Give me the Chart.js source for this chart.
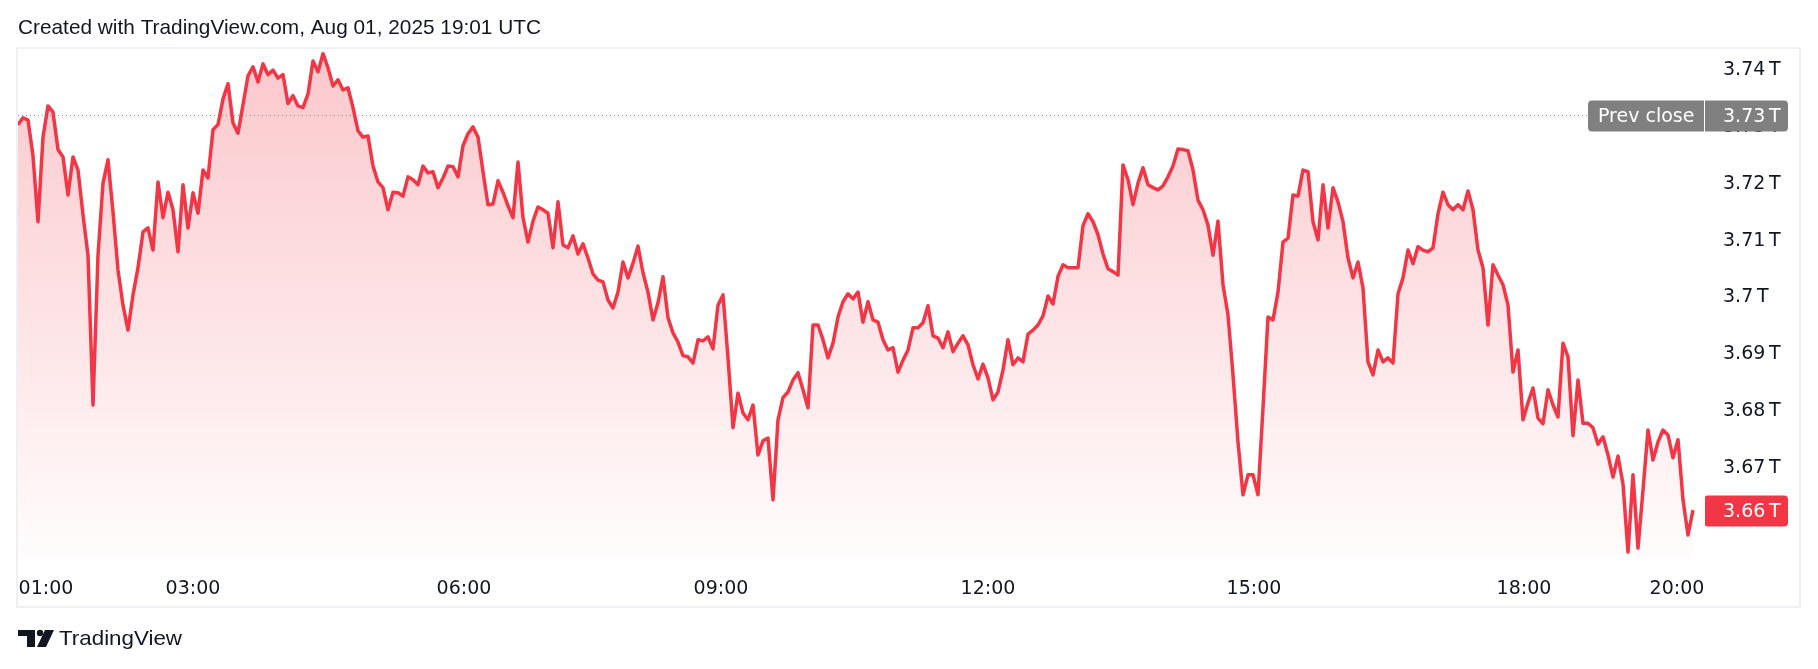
<!DOCTYPE html>
<html><head><meta charset="utf-8">
<script src="https://cdn.jsdelivr.net/npm/chart.js@4.4.1/dist/chart.umd.min.js"></script>
<style>html,body{margin:0;padding:0;background:#fff;overflow:hidden}canvas{display:block}</style>
</head><body>
<canvas id="c" width="1818" height="669"></canvas>
<script>
// ---------- data ----------
const titleText = 'Created with TradingView.com, Aug 01, 2025 19:01 UTC';
const brandText = 'TradingView';
const prevCloseLabel = 'Prev close';
const timeTickPos = [5.6, 35, 89.2, 140.6, 194, 247.2, 301.2, 331.8];
const timeTickLabels = ['01:00', '03:00', '06:00', '09:00', '12:00', '15:00', '18:00', '20:00'];
const priceTicks = [3670, 3680, 3690, 3700, 3710, 3720, 3730, 3740];
const prevCloseB = 3731.7;
// market cap, billions USD
const marketCapB = [
3730.0,3731.2,3730.8,3724.5,3712.9,3727.8,3733.3,3732.2,3725.6,3724.3,
3717.6,3724.3,3722.0,3714.1,3707.0,3680.6,3707.0,3719.7,3723.8,3714.6,
3704.4,3698.2,3693.8,3700.0,3704.8,3711.1,3711.8,3707.9,3719.9,3713.6,
3718.1,3715.0,3707.6,3719.4,3711.8,3718.0,3714.4,3722.0,3720.6,3729.1,
3730.0,3734.5,3737.2,3730.3,3728.5,3733.5,3738.6,3740.2,3737.5,3740.7,
3738.8,3739.6,3738.2,3738.8,3733.7,3735.1,3733.3,3733.0,3735.4,3741.2,
3739.3,3742.5,3740.0,3736.8,3737.9,3736.1,3736.5,3733.0,3728.9,3727.8,
3728.0,3722.7,3719.9,3718.9,3715.0,3718.1,3718.0,3717.4,3720.8,3720.3,
3719.4,3722.7,3721.5,3721.7,3718.9,3720.6,3722.7,3722.6,3720.8,3726.3,
3728.4,3729.6,3727.8,3721.7,3715.9,3716.0,3720.1,3718.1,3715.7,3713.6,
3723.4,3713.6,3709.3,3713.0,3715.5,3715.0,3714.4,3708.3,3716.4,3708.8,
3708.3,3710.4,3707.2,3709.0,3706.5,3703.7,3702.6,3702.3,3699.1,3697.7,
3700.5,3705.8,3703.0,3705.6,3708.6,3703.9,3700.5,3695.6,3698.6,3703.2,
3696.0,3693.3,3691.7,3689.3,3689.1,3688.0,3692.1,3691.9,3692.6,3690.5,
3698.2,3700.0,3688.9,3676.6,3682.7,3679.2,3678.0,3680.6,3671.8,3674.3,
3674.8,3663.9,3678.0,3681.9,3682.9,3685.0,3686.3,3683.3,3680.1,3694.7,
3694.7,3692.1,3688.9,3691.5,3696.1,3698.8,3700.2,3699.3,3700.5,3695.2,
3698.8,3695.6,3695.2,3692.1,3690.3,3690.7,3686.4,3688.5,3690.3,3694.2,
3694.2,3695.1,3698.1,3692.8,3692.4,3690.7,3693.5,3690.0,3691.5,3692.8,
3691.2,3687.7,3685.2,3687.8,3685.4,3681.5,3682.9,3686.8,3692.1,3687.7,
3688.9,3688.2,3693.1,3693.8,3694.7,3696.3,3699.8,3698.4,3703.3,3705.3,
3704.8,3704.8,3704.8,3712.2,3714.3,3712.9,3710.6,3707.2,3704.6,3704.1,
3703.5,3722.9,3720.3,3715.9,3719.7,3722.4,3719.4,3718.9,3718.5,3719.2,
3720.8,3722.7,3725.7,3725.6,3725.4,3722.0,3716.7,3715.0,3712.3,3707.0,
3713.0,3701.8,3696.5,3685.9,3674.1,3664.8,3668.3,3668.3,3664.8,3680.1,
3696.1,3695.6,3700.5,3709.3,3710.0,3717.6,3717.4,3722.0,3721.7,3712.9,
3709.7,3719.4,3711.8,3718.9,3716.4,3712.9,3706.5,3703.0,3705.8,3701.2,
3688.2,3685.9,3690.3,3688.2,3688.9,3688.0,3700.2,3703.0,3707.9,3705.5,
3708.5,3707.9,3707.6,3708.3,3714.3,3718.1,3715.9,3715.0,3715.9,3715.0,
3718.3,3715.0,3707.9,3704.8,3694.7,3705.3,3703.5,3701.8,3698.2,3686.4,
3690.3,3678.0,3681.0,3683.6,3678.3,3677.3,3683.3,3680.6,3678.5,3691.5,
3689.1,3675.2,3685.0,3677.4,3677.4,3676.6,3673.7,3675.0,3671.8,3667.9,
3671.6,3666.7,3654.7,3668.3,3655.4,3665.6,3676.2,3670.9,3674.1,3676.2,
3675.3,3671.3,3674.5,3663.9,3657.7,3662.1
];

// ---------- helpers ----------
const RED = '#F23645';
const TXT = '#131722';
const AXIS_FONT = '"DejaVu Sans", sans-serif';
const fmtT = v => (Math.round(v / 10) / 100).toString() + '\u202FT';

function fitText(ctx, text, x, baseline, font, targetW) {
  ctx.save();
  ctx.font = font;
  const w = ctx.measureText(text).width;
  ctx.translate(x, baseline);
  ctx.scale(targetW / w, 1);
  ctx.textAlign = 'left';
  ctx.textBaseline = 'alphabetic';
  ctx.fillStyle = TXT;
  ctx.fillText(text, 0, 0);
  ctx.restore();
}
function box(ctx, x, y, w, h, r, color) {
  ctx.beginPath();
  ctx.roundRect(x, y, w, h, r);
  ctx.fillStyle = color;
  ctx.fill();
}

const decor = {
  id: 'decor',
  beforeDraw(chart) {
    const ctx = chart.ctx;
    ctx.save();
    ctx.strokeStyle = '#eef0f3';
    ctx.lineWidth = 2;
    ctx.strokeRect(17, 48, 1783, 559);
    ctx.restore();
  },
  beforeDatasetsDraw(chart) {
    const ctx = chart.ctx, y = chart.scales.y.getPixelForValue(prevCloseB);
    ctx.save();
    ctx.strokeStyle = '#9598a1';
    ctx.lineWidth = 1;
    ctx.setLineDash([1, 3]);
    ctx.beginPath();
    ctx.moveTo(chart.chartArea.left, Math.round(y) + 0.5);
    ctx.lineTo(1588, Math.round(y) + 0.5);
    ctx.stroke();
    ctx.restore();
  },
  afterDraw(chart) {
    const ctx = chart.ctx, ys = chart.scales.y;
    // title & brand
    fitText(ctx, titleText, 18, 34, '21px "Liberation Sans", sans-serif', 523);
    fitText(ctx, brandText, 59, 645, '21px "Liberation Sans Narrow", "Liberation Sans", sans-serif', 123);
    // logo
    ctx.save();
    ctx.fillStyle = TXT;
    ctx.fillRect(18, 630, 17, 6);
    ctx.fillRect(27, 630, 8, 17);
    ctx.beginPath(); ctx.arc(40, 633, 3.2, 0, Math.PI * 2); ctx.fill();
    ctx.beginPath();
    ctx.moveTo(45, 630); ctx.lineTo(54, 630); ctx.lineTo(46, 647); ctx.lineTo(37, 647); ctx.closePath(); ctx.fill();
    ctx.restore();
    // prev close label
    const yp = ys.getPixelForValue(prevCloseB);
    const h = 31;
    ctx.save();
    box(ctx, 1588, yp - h / 2 + 1, 116, h, [4, 0, 0, 4], '#808080');
    box(ctx, 1705, yp - h / 2 + 1, 83, h, [0, 4, 4, 0], '#808080');
    ctx.fillStyle = '#fff';
    ctx.font = '19px ' + AXIS_FONT;
    ctx.textBaseline = 'middle';
    ctx.textAlign = 'left';
    ctx.fillText(prevCloseLabel, 1598, yp + 2);
    ctx.fillText(fmtT(prevCloseB), 1723, yp + 2);
    // last value label
    const last = marketCapB[marketCapB.length - 1];
    const yl = ys.getPixelForValue(last);
    box(ctx, 1705, yl - h / 2 + 1, 83, h, [2, 4, 4, 2], RED);
    ctx.fillStyle = '#fff';
    ctx.fillText(fmtT(last), 1723, yl + 2);
    ctx.restore();
  }
};

new Chart(document.getElementById('c'), {
  type: 'line',
  data: {
    datasets: [{
      data: marketCapB.map((v, i) => ({ x: i, y: v })),
      borderColor: RED,
      borderWidth: 3.5,
      pointRadius: 0,
      tension: 0,
      borderJoinStyle: 'round',
      fill: 'start',
      backgroundColor(c) {
        const a = c.chart.chartArea;
        if (!a) return 'rgba(242,54,69,0.15)';
        const g = c.chart.ctx.createLinearGradient(0, a.top, 0, a.bottom);
        g.addColorStop(0, 'rgba(242,54,69,0.28)');
        g.addColorStop(1, 'rgba(242,54,69,0.01)');
        return g;
      }
    }]
  },
  options: {
    responsive: false,
    animation: false,
    events: [],
    layout: { padding: { left: 18, top: 48, right: 0, bottom: 0 } },
    plugins: { legend: { display: false }, tooltip: { enabled: false } },
    scales: {
      x: {
        type: 'linear', min: 0, max: 338,
        grid: { display: false, drawTicks: false },
        border: { display: false },
        afterBuildTicks(s) { s.ticks = timeTickPos.map(v => ({ value: v })); },
        afterFit(s) { s.height = 669 - 560; },
        ticks: {
          autoSkip: false, maxRotation: 0, padding: 18,
          color: TXT, font: { family: AXIS_FONT, size: 19 },
          callback: (v, i) => timeTickLabels[i]
        }
      },
      y: {
        type: 'linear', position: 'right', min: 3653.3, max: 3743.5,
        grid: { display: false, drawTicks: false },
        border: { display: false },
        afterBuildTicks(s) { s.ticks = priceTicks.map(v => ({ value: v })); },
        afterFit(s) { s.width = 1818 - 1708; },
        ticks: {
          padding: 15, labelOffset: 2.5, color: TXT, font: { family: AXIS_FONT, size: 19 },
          callback: v => fmtT(v)
        }
      }
    }
  },
  plugins: [decor]
});
</script>
</body></html>
